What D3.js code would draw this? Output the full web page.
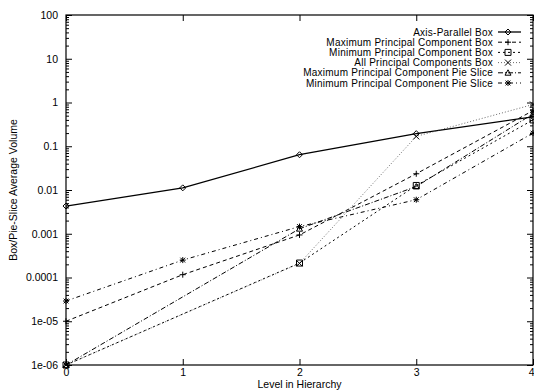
<!DOCTYPE html>
<html>
<head>
<meta charset="utf-8">
<script src="https://cdn.jsdelivr.net/npm/d3@7"></script>
<style>
  body { margin: 0; background: #fff; }
  svg { display: block; font-family: "Liberation Sans", Arial, sans-serif; }
  .axis text { font-size: 10.5px; fill: #000; }
  .axis line { stroke: #000; }
  .axis path { display: none; }
</style>
</head>
<body>
<div id="chart"></div>
<script>
const levels = [0, 1, 2, 3, 4];
const yTicks = [1e2, 1e1, 1, 1e-1, 1e-2, 1e-3, 1e-4, 1e-5, 1e-6];
const yTickLabels = ["100", "10", "1", "0.1", "0.01", "0.001", "0.0001", "1e-05", "1e-06"];

const seriesNames = [
  "Axis-Parallel Box",
  "Maximum Principal Component Box",
  "Minimum Principal Component Box",
  "All Principal Components Box",
  "Maximum Principal Component Pie Slice",
  "Minimum Principal Component Pie Slice"
];
// null = no point at that level
const axisParallel = [0.0043, 0.0112, 0.064, 0.194, 0.47];
const maxPCBox     = [1e-5, 0.000116, 0.00094, 0.0235, 0.65];
const minPCBox     = [1e-6, null, 0.000214, 0.0127, 0.4];
const allPCBox     = [1e-6, null, 0.00021, 0.168, 0.9];
const maxPCPie     = [1e-6, null, 0.0013, 0.012, 0.55];
const minPCPie     = [2.9e-5, 0.00025, 0.00146, 0.006, 0.2];

const seriesValues = [axisParallel, maxPCBox, minPCBox, allPCBox, maxPCPie, minPCPie];
const dashes = [null, "4,3", "2,3", "1,2", "5,2,1,2", "4,3,1,3"];
const strokes = ["#000", "#000", "#000", "#444", "#000", "#000"];
const widths = [1.3, 1, 1, 0.8, 1, 1];
const markers = ["diamond", "plus", "square", "cross", "triangle", "star"];

const W = 534, H = 392;
const margin = { top: 15, right: 1, bottom: 27, left: 66 };
const width = W - margin.left - margin.right;
const height = H - margin.top - margin.bottom;

const svg = d3.select("#chart").append("svg")
  .attr("width", W)
  .attr("height", H);

const g = svg.append("g")
  .attr("transform", "translate(" + margin.left + "," + margin.top + ")");

const x = d3.scaleLinear().domain([0, 4]).range([0, width]);
const y = d3.scaleLog().domain([1e-6, 100]).range([height, 0]);

// minor ticks 2..9 per decade
let minor = [];
for (let e = -6; e < 2; e++) {
  for (let m = 2; m <= 9; m++) minor.push(m * Math.pow(10, e));
}

g.append("g").attr("class", "axis")
  .call(d3.axisLeft(y).tickValues(minor).tickSize(-3).tickFormat(""));
g.append("g").attr("class", "axis")
  .attr("transform", "translate(" + width + ",0)")
  .call(d3.axisRight(y).tickValues(minor).tickSize(-3).tickFormat(""));

g.append("g").attr("class", "axis")
  .call(d3.axisLeft(y).tickValues(yTicks).tickSize(-6).tickSizeOuter(0).tickPadding(8)
    .tickFormat((d, i) => yTickLabels[i]));
g.append("g").attr("class", "axis")
  .attr("transform", "translate(" + width + ",0)")
  .call(d3.axisRight(y).tickValues(yTicks).tickSize(-6).tickFormat(""));

const xAxis = g.append("g").attr("class", "axis")
  .attr("transform", "translate(0," + height + ")")
  .call(d3.axisBottom(x).tickValues(levels).tickSize(-6).tickSizeOuter(0).tickPadding(4)
    .tickFormat(d3.format("d")));
// last label sits against the right edge, keep it inside
xAxis.selectAll(".tick text")
  .filter(d => d === 4)
  .attr("text-anchor", "end")
  .attr("dx", 1);

g.append("g").attr("class", "axis")
  .call(d3.axisTop(x).tickValues(levels).tickSize(-6).tickFormat(""));

g.append("rect")
  .attr("width", width)
  .attr("height", height)
  .attr("fill", "none")
  .attr("stroke", "#000")
  .attr("stroke-width", 1.2);

// axis titles
svg.append("text")
  .attr("x", margin.left + width / 2)
  .attr("y", H - 4)
  .attr("text-anchor", "middle")
  .attr("font-size", 10.5)
  .text("Level in Hierarchy");

svg.append("text")
  .attr("transform", "translate(17," + (margin.top + height / 2) + ") rotate(-90)")
  .attr("text-anchor", "middle")
  .attr("font-size", 10.5)
  .text("Box/Pie-Slice Average Volume");

function markerPath(type, s) {
  const h = s / 2;
  switch (type) {
    case "diamond": return `M0,${-h}L${h},0L0,${h}L${-h},0Z`;
    case "plus": return `M${-h},0H${h}M0,${-h}V${h}`;
    case "square": return `M${-h},${-h}H${h}V${h}H${-h}Z`;
    case "cross": return `M${-h},${-h}L${h},${h}M${-h},${h}L${h},${-h}`;
    case "triangle": return `M0,${-h}L${h},${h * 0.8}L${-h},${h * 0.8}Z`;
    case "star": return `M${-h},0H${h}M0,${-h}V${h}M${-h * 0.8},${-h * 0.8}L${h * 0.8},${h * 0.8}M${-h * 0.8},${h * 0.8}L${h * 0.8},${-h * 0.8}`;
  }
}

const line = d3.line()
  .x(d => x(d.level))
  .y(d => y(d.value));

seriesValues.forEach((vals, i) => {
  const pts = levels.map((l, j) => ({ level: l, value: vals[j] })).filter(d => d.value != null);
  g.append("path")
    .datum(pts)
    .attr("d", line)
    .attr("fill", "none")
    .attr("stroke", strokes[i])
    .attr("stroke-width", widths[i])
    .attr("stroke-dasharray", dashes[i]);

  g.selectAll(".pt" + i)
    .data(pts)
    .enter()
    .append("path")
    .attr("class", "pt" + i)
    .attr("transform", d => "translate(" + x(d.level) + "," + y(d.value) + ")")
    .attr("d", markerPath(markers[i], 6))
    .attr("fill", "none")
    .attr("stroke", "#000")
    .attr("stroke-width", 1);
});

// legend
const legend = svg.append("g");
seriesNames.forEach((name, i) => {
  const ly = 32 + i * 10.2;
  legend.append("text")
    .attr("x", 493)
    .attr("y", ly)
    .attr("dy", "0.35em")
    .attr("text-anchor", "end")
    .attr("font-size", 10)
    .attr("letter-spacing", 0.25)
    .text(name);
  legend.append("line")
    .attr("x1", 498).attr("x2", 521)
    .attr("y1", ly).attr("y2", ly)
    .attr("stroke", strokes[i])
    .attr("stroke-width", widths[i])
    .attr("stroke-dasharray", dashes[i]);
  legend.append("path")
    .attr("transform", "translate(508," + ly + ")")
    .attr("d", markerPath(markers[i], 6))
    .attr("fill", "none")
    .attr("stroke", "#000");
});
</script>
</body>
</html>
